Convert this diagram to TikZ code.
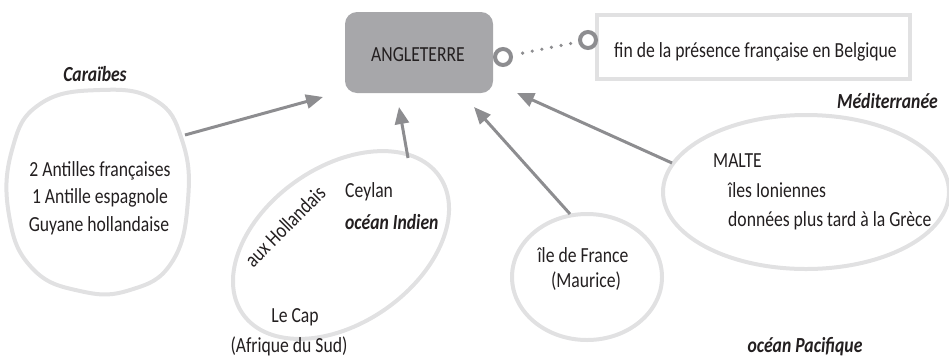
\documentclass[tikz,border=0pt]{standalone}
\usepackage{fontspec}
\setmainfont{Carlito}[FakeStretch=0.82]
\usetikzlibrary{arrows.meta,shapes.geometric}
\definecolor{boxgray}{HTML}{A7A7AA}
\definecolor{linegray}{HTML}{8D8D90}
\definecolor{blobgray}{HTML}{E1E1E2}
\definecolor{txt}{HTML}{231F20}
\begin{document}
\begin{tikzpicture}[x=1pt,y=1pt,
  every node/.style={font=\fontsize{21.5}{27.5}\selectfont, text=txt, inner sep=0pt},
  lbl/.style={font=\fontsize{21.5}{27.5}\selectfont\bfseries\itshape},
  blob/.style={draw=blobgray, line width=4pt},
  link/.style={draw=linegray, line width=3pt, -{Triangle[length=17pt,width=14pt]}},
  ring/.style={circle, draw=linegray, line width=4pt, minimum size=16pt},
]
\useasboundingbox (0,0) rectangle (949,-357);

% central box
\node[fill=boxgray, rounded corners=12pt, minimum width=148pt, minimum height=81pt] (ang) at (419,-52.5) {};
\node[anchor=base] (angtxt) at (418,-61.7) {ANGLETERRE};

% linked note
\node[draw=blobgray, line width=4pt, minimum width=313pt, minimum height=64pt] (fin) at (753.5,-47) {};
\node[anchor=base west] (fintxt) at (614,-57) {fin de la présence française en Belgique};
\node[ring] (c1) at (503,-57) {};
\node[ring] (c2) at (588,-40) {};
\draw[linegray, line width=3.6pt, line cap=round, dash pattern=on 0pt off 9.8pt, shorten <=10pt, shorten >=6pt] (c1) -- (c2);

% Caraibes
\node[lbl, anchor=base] (carlbl) at (95,-81) {Caraïbes};
\draw[blob] plot[smooth cycle, tension=0.75] coordinates {(100,-90) (155,-100) (182,-140) (188,-200) (172,-262) (130,-290) (80,-291) (32,-268) (9,-215) (12,-150) (40,-104)};
\node[anchor=base] (car1) at (100,-176) {2 Antilles françaises};
\node[anchor=base] (car2) at (100,-203.5) {1 Antille espagnole};
\node[anchor=base] (car3) at (99,-231) {Guyane hollandaise};

% ocean Indien
\node[ellipse, draw=blobgray, line width=4pt, minimum width=240pt, minimum height=156pt, rotate=35] (ind) at (341,-245) {};
\node[anchor=base west] (cey) at (345,-197.5) {Ceylan};
\node[lbl, anchor=base west] (indlbl) at (345,-229) {océan Indien};
\node[rotate=45] (hol) at (285,-226) {aux Hollandais};
\node[anchor=base] (cap) at (295,-322) {Le Cap};
\node[anchor=base] (afr) at (289,-352) {(Afrique du Sud)};

% ile de France
\node[ellipse, draw=blobgray, line width=4pt, minimum width=150pt, minimum height=126pt] (mau) at (587,-277) {};
\node[anchor=base] (ile) at (583,-262) {île de France};
\node[anchor=base] (maur) at (586,-287) {(Maurice)};

% Mediterranee
\node[lbl, anchor=base east] (medlbl) at (938,-108) {Méditerranée};
\node[ellipse, draw=blobgray, line width=4pt, minimum width=286pt, minimum height=154pt] (mal) at (806,-192) {};
\node[anchor=base west] (malte) at (713,-167) {MALTE};
\node[anchor=base west] (ion) at (728,-197) {îles Ioniennes};
\node[anchor=base west] (gre) at (728,-226) {données plus tard à la Grèce};

% ocean Pacifique
\node[lbl, anchor=base] (pac) at (805,-352) {océan Pacifique};

% arrows
\coordinate (a1s) at (185,-135); \coordinate (a1e) at (323,-97);
\coordinate (a2s) at (408,-158); \coordinate (a2e) at (399,-107);
\coordinate (a3s) at (570,-214); \coordinate (a3e) at (474,-107);
\coordinate (a4s) at (672,-163); \coordinate (a4e) at (517,-93);
\draw[link] (a1s) -- (a1e);
\draw[link] (a2s) -- (a2e);
\draw[link] (a3s) -- (a3e);
\draw[link] (a4s) -- (a4e);
\end{tikzpicture}
\end{document}
